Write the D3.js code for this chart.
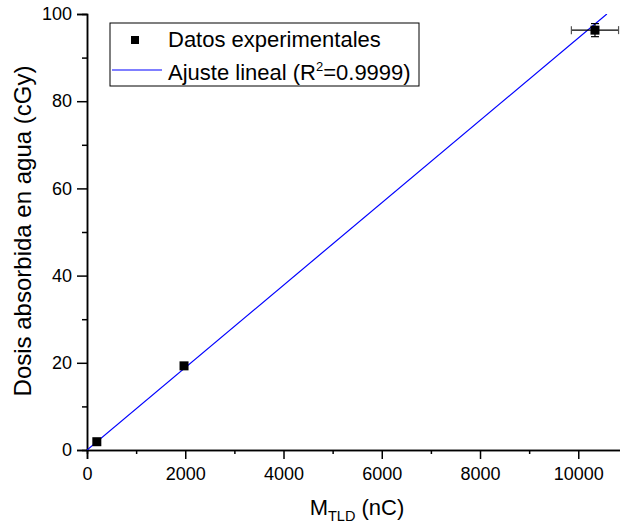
<!DOCTYPE html>
<html lang="en">
<head>
    <script src="https://d3js.org/d3.v7.min.js"></script>
    <style>
        body { margin: 0; background: #fff; }
        text { font-family: "Liberation Sans", Arial, sans-serif; fill: #000; }
    </style>
</head>
<body>
    <div id="chart"></div>
    <script>
        // datos
        const mTLD = [200, 1975, 10340];
        const dosis = [1.9, 19.3, 96.3];
        const errX = [0, 0, 480];
        const errY = [0, 0, 1.5];
        const slope = 0.00945;   // ajuste lineal por el origen
        const xTicks = [0, 2000, 4000, 6000, 8000, 10000];
        const yTicks = [0, 20, 40, 60, 80, 100];

        const width = 620, height = 527;
        const svg = d3.select("#chart").append("svg")
            .attr("width", width).attr("height", height);

        const x = d3.scaleLinear().domain([0, 11000]).range([87, 627.4]);
        const y = d3.scaleLinear().domain([0, 100]).range([450, 14]);

        svg.append("clipPath").attr("id", "clip")
            .append("rect").attr("x", 87).attr("y", 14).attr("width", 540).attr("height", 436);

        // ejes
        const xAxis = d3.axisBottom(x).tickValues(xTicks).tickSize(9).tickPadding(8).tickFormat(d3.format("d"));
        const xMinor = d3.axisBottom(x).tickValues(d3.range(1000, 11000, 2000)).tickSize(4).tickFormat("");
        const yAxis = d3.axisLeft(y).tickValues(yTicks).tickSize(10).tickPadding(5).tickFormat(d3.format("d"));
        const yMinor = d3.axisLeft(y).tickValues(d3.range(10, 100, 20)).tickSize(5).tickFormat("");

        function styleAxis(g) {
            g.select(".domain").attr("stroke", "#000").attr("stroke-width", 1.5);
            g.selectAll(".tick line").attr("stroke", "#000").attr("stroke-width", 1.5);
            g.selectAll(".tick text").attr("font-size", 18).attr("font-family", "Liberation Sans, Arial, sans-serif").attr("fill", "#000");
        }

        svg.append("g").attr("transform", "translate(0,450)").call(xAxis).call(styleAxis);
        svg.append("g").attr("transform", "translate(0,450)").call(xMinor).call(styleAxis);
        svg.append("g").attr("transform", "translate(87,0)").call(yAxis).call(styleAxis);
        svg.append("g").attr("transform", "translate(87,0)").call(yMinor).call(styleAxis);

        // recta de ajuste
        const fit = [0, 100 / slope];
        svg.append("line")
            .attr("clip-path", "url(#clip)")
            .attr("x1", x(fit[0])).attr("y1", y(fit[0] * slope))
            .attr("x2", x(fit[1])).attr("y2", y(fit[1] * slope))
            .attr("stroke", "#0000ff").attr("stroke-width", 1.2);

        // barras de error
        const pts = mTLD.map((d, i) => ({ x: d, y: dosis[i], ex: errX[i], ey: errY[i] }));
        const eb = svg.append("g").attr("stroke", "#000").attr("stroke-width", 1.2);
        pts.filter(d => d.ex > 0).forEach(d => {
            eb.append("line").attr("x1", x(d.x - d.ex)).attr("x2", x(d.x + d.ex)).attr("y1", y(d.y)).attr("y2", y(d.y));
            eb.append("line").attr("x1", x(d.x - d.ex)).attr("x2", x(d.x - d.ex)).attr("y1", y(d.y) - 4).attr("y2", y(d.y) + 4).attr("stroke", "#555");
            eb.append("line").attr("x1", x(d.x + d.ex)).attr("x2", x(d.x + d.ex)).attr("y1", y(d.y) - 4).attr("y2", y(d.y) + 4).attr("stroke", "#555");
        });
        pts.filter(d => d.ey > 0).forEach(d => {
            eb.append("line").attr("x1", x(d.x)).attr("x2", x(d.x)).attr("y1", y(d.y - d.ey)).attr("y2", y(d.y + d.ey));
            eb.append("line").attr("x1", x(d.x) - 4).attr("x2", x(d.x) + 4).attr("y1", y(d.y - d.ey)).attr("y2", y(d.y - d.ey));
            eb.append("line").attr("x1", x(d.x) - 4).attr("x2", x(d.x) + 4).attr("y1", y(d.y + d.ey)).attr("y2", y(d.y + d.ey));
        });

        // puntos
        svg.selectAll(".dot").data(pts).enter().append("rect")
            .attr("class", "dot")
            .attr("x", d => x(d.x) - 4.5).attr("y", d => y(d.y) - 4.5)
            .attr("width", 9).attr("height", 9)
            .attr("fill", "#000");

        // titulos de ejes
        const xt = svg.append("text").attr("x", 357).attr("y", 515).attr("text-anchor", "middle").attr("font-size", 22);
        xt.append("tspan").text("M");
        xt.append("tspan").attr("font-size", 14.5).attr("dy", 6).text("TLD");
        xt.append("tspan").attr("dy", -6).text(" (nC)");

        svg.append("text")
            .attr("transform", "translate(31,231) rotate(-90)")
            .attr("text-anchor", "middle").attr("font-size", 24)
            .text("Dosis absorbida en agua (cGy)");

        // leyenda
        const lg = svg.append("g");
        lg.append("rect").attr("x", 110).attr("y", 23).attr("width", 309).attr("height", 63)
            .attr("fill", "#fff").attr("stroke", "#000").attr("stroke-width", 1);
        lg.append("rect").attr("x", 131).attr("y", 36).attr("width", 8).attr("height", 8).attr("fill", "#000");
        lg.append("text").attr("x", 168).attr("y", 47).attr("font-size", 22).text("Datos experimentales");
        lg.append("line").attr("x1", 112).attr("x2", 162).attr("y1", 70).attr("y2", 70)
            .attr("stroke", "#0000ff").attr("stroke-width", 1.2);
        const lt = lg.append("text").attr("x", 168).attr("y", 80).attr("font-size", 22);
        lt.append("tspan").text("Ajuste lineal (R");
        lt.append("tspan").attr("font-size", 13).attr("dy", -9).text("2");
        lt.append("tspan").attr("dy", 9).text("=0.9999)");
    </script>
</body>
</html>
